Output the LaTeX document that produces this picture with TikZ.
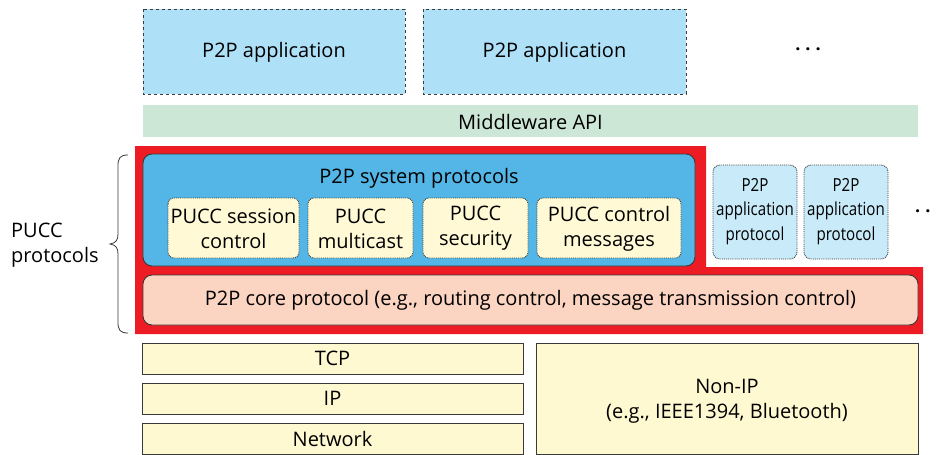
\documentclass[tikz,border=0pt]{standalone}
\usepackage{fontspec}
\setmainfont{Open Sans}
\newfontfamily\narrowfont[FakeStretch=0.84]{Open Sans}
\usetikzlibrary{positioning}

\definecolor{appblue}{HTML}{AEE1F8}
\definecolor{mwgreen}{HTML}{CCE7D5}
\definecolor{puccred}{HTML}{ED1C24}
\definecolor{sysblue}{HTML}{53B6E6}
\definecolor{subyellow}{HTML}{FFFAD5}
\definecolor{protoblue}{HTML}{C8EAF9}
\definecolor{coresalmon}{HTML}{FBD4C2}
\definecolor{lowyellow}{HTML}{FFF9D2}
\definecolor{edgegray}{HTML}{3A3A3A}

\tikzset{
  txt/.style={font=\fontsize{20}{25}\selectfont, align=center, inner sep=0pt},
  ntxt/.style={font=\narrowfont\fontsize{18}{24.5}\selectfont, align=center, inner sep=0pt},
  dots/.style={font=\bfseries\fontsize{18}{20}\selectfont, inner sep=0pt},
  appbox/.style={draw=edgegray, dashed, line width=0.9pt, fill=appblue},
  subbox/.style={draw=edgegray, densely dotted, line width=0.9pt, fill=subyellow, rounded corners=6pt},
  protobox/.style={draw=edgegray, densely dotted, line width=0.9pt, fill=protoblue, rounded corners=7pt},
  solidbox/.style={draw=edgegray, line width=0.9pt, rounded corners=9pt},
  lowbox/.style={draw=edgegray, line width=0.9pt, fill=lowyellow},
}

\begin{document}
\begin{tikzpicture}[x=1pt, y=-1pt]
\useasboundingbox (0,0) rectangle (937,455);

% application layer
\draw[appbox] (143,9) rectangle (405,94);
\node[txt] (app1) at (274,52) {P2P application};
\draw[appbox] (423,9) rectangle (686,94);
\node[txt] (app2) at (554.5,52) {P2P application};
\node[dots] (moreapps) at (808,49) {.\hspace{5pt}.\hspace{5pt}.};

% middleware
\fill[mwgreen] (143,105) rectangle (918,137);
\node[txt] (mw) at (530.5,121.5) {Middleware API};

% PUCC region
\fill[puccred] (135,146) -- (706,146) -- (706,267) -- (923,267) -- (923,334) -- (135,334) -- cycle;

% system protocols
\draw[solidbox, fill=sysblue] (143,154) rectangle (695,266);
\node[txt] (sys) at (419,178) {P2P system protocols};

\draw[subbox] (168,198) rectangle (299,258);
\node[txt] (sess) at (233.5,228.5) {PUCC session\\control};
\draw[subbox] (308,198) rectangle (413,258);
\node[txt] (mcast) at (360.5,228.5) {PUCC\\multicast};
\draw[subbox] (423,198) rectangle (528,258);
\node[txt] (sec) at (475.5,228.5) {PUCC\\security};
\draw[subbox] (537,198) rectangle (681,258);
\node[txt] (ctrl) at (609,228.5) {PUCC control\\messages};

% application protocols
\draw[protobox] (713,165) rectangle (797,259);
\node[ntxt] (ap1) at (755,211.5) {P2P\\application\\protocol};
\draw[protobox] (804,165) rectangle (888,259);
\node[ntxt] (ap2) at (846,211.5) {P2P\\application\\protocol};
\node[dots, anchor=west] (moreprotos) at (915,211) {.\hspace{5pt}.};

% core protocol
\draw[solidbox, fill=coresalmon] (143,275) rectangle (918,325);
\node[txt] (core) at (530.5,300) {P2P core protocol (e.g., routing control, message transmission control)};

% brace and label
\draw[line width=0.8pt, edgegray] (128,155) .. controls (120,155) and (118,158) .. (118,166)
  -- (118,234) .. controls (118,240) and (116,243) .. (110,244)
  .. controls (116,245) and (118,248) .. (118,254)
  -- (118,322) .. controls (118,330) and (120,333) .. (128,333);
\node[txt, align=left, anchor=west] (pucc) at (11,245.5) {PUCC\\protocols};

% transport and lower layers
\draw[lowbox] (142,343) rectangle (523,374);
\node[txt] (tcp) at (332.5,358.5) {TCP};
\draw[lowbox] (142,383) rectangle (523,414);
\node[txt] (ip) at (332.5,398.5) {IP};
\draw[lowbox] (142,423) rectangle (523,454);
\node[txt] (net) at (332.5,438.5) {Network};
\draw[lowbox] (536,343) rectangle (918,454);
\node[txt] (nonip) at (727,401) {Non-IP\\(e.g., IEEE1394, Bluetooth)};
\end{tikzpicture}
\end{document}
